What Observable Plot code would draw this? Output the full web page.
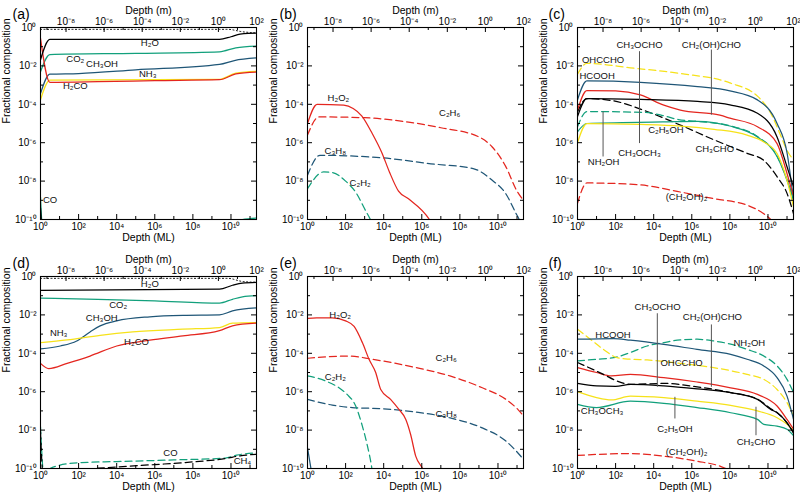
<!DOCTYPE html>
<html><head><meta charset="utf-8">
<script src="https://cdn.jsdelivr.net/npm/d3@7"></script>
<script src="https://cdn.jsdelivr.net/npm/@observablehq/plot@0.6"></script>
<style>
body{margin:0;background:#fff;}
#root{position:relative;width:800px;height:495px;overflow:hidden;background:#fff;}
</style></head><body><div id="root"></div>
<script>
// ---------- axis ticks ----------
const M2ML = Math.pow(10, 9.34);          // monolayers per metre
const XMAX = 100 * M2ML;
const yTicksMajor = [1e-10, 1e-8, 1e-6, 1e-4, 1e-2, 1];
const yTicksMinor = [1e-9, 1e-7, 1e-5, 1e-3, 1e-1];
const xTicksMajor = [1, 1e2, 1e4, 1e6, 1e8, 1e10];
const xTicksMinor = [1e1, 1e3, 1e5, 1e7, 1e9, 1e11];
const mTicksMajor = [1e-8, 1e-6, 1e-4, 1e-2, 1, 1e2];
const mTicksMinor = [1e-9, 1e-7, 1e-5, 1e-3, 1e-1, 1e1];

// ---------- panel (a) ----------
const a_total = [[1,0.8],[7e9,0.8],[4e10,0.6],[2.2e11,0.52]];
const a_H2O = [[1,0.021],[3.1,0.24],[2.5e9,0.24],[1e10,0.33],[3e10,0.45],[8e10,0.5],[2.2e11,0.51]];
const a_CO2 = [[1,0.005],[3.1,0.039],[1e5,0.045],[2.5e9,0.054],[1.8e10,0.087],[2.2e11,0.107]];
const a_CH3OH = [[1,3.6e-4],[3.1,0.0037],[100,0.004],[1e5,0.0062],[2.5e9,0.012],[1.5e10,0.019],[2.2e11,0.026]];
const a_NH3 = [[1,1.7e-4],[3.1,0.0018],[2.5e9,0.002],[1.8e10,0.0042],[2.2e11,0.0052]];
const a_H2CO = [[1,0.27],[3.1,0.0014],[1e3,0.0015],[1e6,0.0017],[2.5e9,0.0019],[1.8e10,0.0038],[2.2e11,0.0048]];
const a_CO = [[1,1.5e-9],[1.3,3e-11],[1e4,1e-12],[1e10,1e-11],[4e10,1e-10],[2.2e11,1.2e-10]];
const a_CH4 = [[1,4e-10],[1.15,5e-11]];
const aLabels = [["H₂O",5.5e5,0.155],["CO₂",67,0.023],["CH₃OH",1.7e3,0.0126],["NH₃",4.3e5,0.0038],["H₂CO",67,9e-4],["CO",3.2,1e-9]];

// ---------- panel (b) ----------
const b_H2O2 = [[1,1e-5],[3.2,1e-4],[80,9e-5],[250,6e-5],[700,2.5e-5],[2500,3e-6],[8000,3e-7],[2e4,3e-8],[6e4,3e-9],[2e5,1.2e-9],[2.5e6,1e-10],[5e6,3e-11]];
const b_C2H6 = [[1,2.5e-6],[4,2.2e-5],[1e3,2e-5],[1e5,1.3e-5],[1e7,6e-6],[1e9,2e-6],[5e9,6e-7],[2.5e10,6e-8],[1e11,3e-9],[2.2e11,1e-9]];
const b_C3H8 = [[1,2e-8],[4.5,2.2e-7],[1e4,1.6e-7],[3e6,8e-8],[5e8,4.5e-8],[5e9,1.1e-8],[2.5e10,2.3e-9],[9e10,2e-10],[1.3e11,1e-10],[2.2e11,2e-11]];
const b_C2H2 = [[1,4e-9],[7,3e-8],[20,2.8e-8],[100,1e-8],[350,2.5e-9],[1100,3e-10],[2000,1e-10],[4000,2e-11]];
const bLabels = [["H₂O₂",42,2.1e-4],["C₂H₆",2.9e7,3.5e-5],["C₃H₈",29,3.6e-7],["C₂H₂",580,8e-9]];

// ---------- panel (c) ----------
const c_OHCCHO = [[1,3.7e-3],[3.1,0.0135],[600,8e-3],[2.5e5,4e-3],[1e8,1.3e-3],[3e9,2.5e-4],[1.4e10,3.4e-5],[5e10,2e-6],[1e11,4e-7],[2.2e11,1.3e-7]];
const c_HCOOH = [[1,1.7e-4],[3.1,1.65e-3],[2e3,1.4e-3],[2e6,8.3e-4],[1e8,5e-4],[2.8e9,1.7e-4],[3e10,1e-5],[1e11,3e-7],[2.2e11,1e-9]];
const c_CH2OHCHO = [[1,5e-5],[3.1,5.2e-4],[100,5e-4],[2e3,3.1e-4],[3.4e4,9e-5],[2.5e5,5e-5],[3e7,2.7e-5],[1e8,1.9e-5],[2.8e9,6.8e-6],[3e10,9e-7],[1e11,2.5e-8],[2.2e11,1.5e-9]];
const c_CH3OCHO = [[1,2.3e-5],[3.1,2e-4],[2e3,1.8e-4],[2e6,1.4e-4],[1e8,9.3e-5],[2.8e9,3.4e-5],[3e10,2e-6],[1e11,5.6e-8],[2.2e11,5e-9]];
const c_CH3CHO = [[1,4e-5],[3.1,2e-4],[80,1.5e-4],[4.5e3,4.2e-5],[2.5e5,8.3e-6],[1.5e7,1.4e-6],[8e8,2.8e-7],[6e9,1.2e-7],[3e10,1.7e-8],[1e11,2.3e-9],[2.2e11,2e-10]];
const c_NH2OH = [[1,6.8e-6],[3.1,4.2e-5],[3e3,3.8e-5],[3e4,2.6e-5],[2e5,1.6e-5],[2e6,1.3e-5],[1e8,7.6e-6],[2.8e9,2.1e-6],[3e10,2e-7],[1e11,1.2e-8],[2.2e11,1.1e-9]];
const c_CH3OCH3 = [[1,3.7e-6],[3.1,1e-5],[3e4,1.2e-5],[2e6,1.3e-5],[1e8,7.4e-6],[2.8e9,2e-6],[3e10,1.9e-7],[1e11,1.1e-8],[2.2e11,1e-9]];
const c_C2H5OH = [[1,1e-6],[3.1,1e-5],[2e3,9e-6],[2.5e5,7.4e-6],[1.5e7,5e-6],[8e8,2.5e-6],[6e9,1.1e-6],[3e10,2.7e-7],[1e11,1.1e-8],[2.2e11,4.5e-10]];
const c_CH2OH2 = [[1,7e-10],[3.1,8e-9],[1.5e3,6.5e-9],[2.5e5,2.7e-9],[1.5e7,1.2e-9],[8e8,5.6e-10],[6e9,2e-10],[1.4e10,1e-10],[4e10,3e-11]];
const cLabels = [["OHCCHO",22,0.0195],["HCOOH",10.7,0.0031],["CH₃OCHO",1.8e3,0.123],["CH₂(OH)CHO",1.07e7,0.123],["NH₂OH",23.6,9.4e-8],["CH₃OCH₃",1.8e3,3e-7],["C₂H₅OH",4.4e4,4.5e-6],["CH₃CHO",1.6e7,5e-7],["(CH₂OH)₂",5.3e5,1.5e-9]];
const cLeaders = [[1.8e3,0.055,9e-7],[1.07e7,0.067,2.7e-5],[22,4e-5,1.8e-7]];

// ---------- panel (d) ----------
const d_total = [[1,0.8],[7e9,0.8],[4e10,0.55],[2.2e11,0.5]];
const d_H2O = [[1,0.19],[2.5e9,0.22],[1.2e10,0.35],[4e10,0.45],[2.2e11,0.49]];
const d_CO2 = [[1,0.074],[1e3,0.065],[1e6,0.054],[2.5e9,0.041],[1.2e10,0.065],[4e10,0.087],[2.2e11,0.1]];
const d_CH3OH = [[1,1.7e-4],[11,2.4e-4],[80,4.4e-4],[400,1.3e-3],[1.35e3,2.7e-3],[1e4,4.9e-3],[5.5e5,8e-3],[3e7,9.5e-3],[2.5e9,0.01],[1.2e10,0.016],[2.2e11,0.023]];
const d_NH3 = [[1,3.6e-4],[25,5e-4],[1.35e3,8.7e-4],[7e4,1.3e-3],[3e7,1.8e-3],[2.5e9,2.2e-3],[1.2e10,3.7e-3],[2.2e11,4e-3]];
const d_H2CO = [[1,3e-5],[2.7,1.6e-5],[25,3e-5],[400,7.2e-5],[1e4,2.4e-4],[5.5e5,4.8e-4],[3e7,8e-4],[2.5e9,1.5e-3],[1.2e10,2.7e-3],[2.2e11,3.7e-3]];
const d_CO = [[1,1.5e-8],[1.5,5e-11],[2,7e-11],[8,1.4e-10],[100,2e-10],[1e4,2.3e-10],[1e7,2.8e-10],[5e9,3.5e-10],[2e10,5e-10],[2.2e11,6.5e-10]];
const d_CH4 = [[1,8e-9],[1.35,5e-11],[5,1e-11],[100,8e-11],[1e4,1.2e-10],[1e6,1.6e-10],[1e8,2.2e-10],[5e9,3.3e-10],[3e10,4.6e-10],[2.2e11,5.5e-10]];
const dLabels = [["H₂O",5.5e5,0.42],["CO₂",1.2e4,0.035],["CH₃OH",1.65e3,6.7e-3],["NH₃",9,1.1e-3],["H₂CO",1.1e5,4.1e-4],["CO",6.6e6,6.4e-10],["CH₄",4e10,2.6e-10]];

// ---------- panel (e) ----------
const e_H2O2 = [[1,6.5e-3],[3,7e-3],[20,7e-3],[100,4.9e-3],[280,2.5e-3],[760,3.6e-4],[1.7e3,4.9e-5],[3.8e3,1e-5],[7e3,1.3e-6],[2.3e4,4e-7],[6.3e4,1.2e-7],[1.45e5,3.6e-8],[2.6e5,5.9e-9],[4.8e5,4.4e-10],[1.1e6,1e-10],[2e6,3e-11]];
const e_C2H6 = [[1,5.5e-5],[150,7.2e-5],[2.5e3,4.9e-5],[5e5,1.8e-5],[3e7,6.6e-6],[1.5e9,1.6e-6],[2.6e10,4e-7],[1.1e11,1.2e-7],[2.2e11,5.4e-8]];
const e_C3H8 = [[1,4e-7],[20,2e-7],[220,1.5e-7],[8.5e3,1.3e-7],[4.8e5,8.7e-8],[2.8e7,4.4e-8],[1.5e9,1.3e-8],[2.6e10,2.7e-9],[2.2e11,3e-10]];
const e_C2H2 = [[1,6.6e-6],[9,3.6e-6],[45,1.6e-6],[120,7.2e-7],[340,1.8e-7],[760,1.6e-8],[1.4e3,1.5e-9],[2.3e3,1.3e-10],[3e3,2e-11]];
const e_other = [[1,1.2e-9],[1.7,5e-11]];
const eLabels = [["H₂O₂",52,0.01],["C₂H₆",1.9e7,5.5e-5],["C₂H₂",29,5.6e-6],["C₃H₈",1.9e7,6.9e-8]];

// ---------- panel (f) ----------
const f_HCOOH = [[1,5.4e-4],[80,5.9e-4],[600,4.8e-4],[3.4e4,2.9e-4],[1.9e6,1.6e-4],[1.1e8,8.9e-5],[8e8,4.9e-5],[6e9,2.2e-5],[3e10,5.4e-6],[1e11,5.9e-7],[2.2e11,3.6e-8]];
const f_NH2OH = [[1,4e-5],[10,4.9e-5],[80,5.9e-5],[600,1.1e-4],[4.5e3,2.4e-4],[3.4e4,3.6e-4],[2.5e5,5e-4],[1.9e6,5.4e-4],[1.4e7,4.4e-4],[1.1e8,3e-4],[8e8,1.6e-4],[6e9,7.2e-5],[3e10,2.2e-5],[1e11,4.4e-6],[2.2e11,9e-7]];
const f_OHCCHO = [[1,1.8e-3],[4.7,5.4e-4],[23,1.6e-4],[120,5.9e-5],[600,4.9e-5],[4.5e3,4.5e-5],[2.5e5,3e-5],[1.4e7,1.8e-5],[8e8,7.9e-6],[6e9,4.4e-6],[3e10,1.3e-6],[1e11,2.7e-7],[2.2e11,5.4e-8]];
const f_CH2OHCHO = [[1,1.8e-5],[10,1e-5],[60,6.6e-6],[600,8e-6],[3.4e4,5.4e-6],[1.9e6,3.2e-6],[1.1e8,1.6e-6],[2.8e9,7.2e-7],[3e10,1.8e-7],[1e11,3.6e-8],[2.2e11,1.1e-8]];
const f_CH3OCHO = [[1,2.7e-6],[10,2e-6],[100,1.9e-6],[600,2.4e-6],[3.4e4,2e-6],[1.9e6,1.4e-6],[1.1e8,8.9e-7],[2.8e9,4e-7],[1.4e10,1.2e-7],[3e10,8e-8],[1e11,2.4e-8],[2.2e11,7.2e-9]];
const f_CH3CHO = [[1,3.3e-5],[23,8e-6],[120,3.6e-6],[600,2.4e-6],[3.4e4,2.7e-6],[1.9e6,1.8e-6],[1.1e8,9e-7],[2.8e9,4.1e-7],[1.4e10,1.3e-7],[3e10,8.2e-8],[1e11,2.4e-8],[2.2e11,7.2e-9]];
const f_C2H5OH = [[1,1e-6],[10,4.9e-7],[60,3.7e-7],[600,5.9e-7],[3.4e4,4.9e-7],[1.9e6,3.2e-7],[1.1e8,1.95e-7],[2.8e9,1e-7],[3e10,4.4e-8],[1e11,2e-8],[2.2e11,8.9e-9]];
const f_CH3OCH3 = [[1,2.2e-7],[10,1.5e-7],[600,3.2e-7],[3.4e4,2.5e-7],[1.9e6,1.5e-7],[1.1e8,8e-8],[2.8e9,3.6e-8],[6e9,2e-8],[3e10,1.6e-8],[1e11,1.1e-8],[2.2e11,5.2e-9]];
const f_CH2OH2 = [[1,4.8e-10],[10,5.4e-10],[600,6e-10],[3.4e4,4.4e-10],[1.9e6,2.4e-10],[3.2e7,1.3e-10],[1e8,8e-11],[1e9,3e-11]];
const fLabels = [["CH₃OCHO",1.6e4,0.025],["CH₂(OH)CHO",1.2e7,7.6e-3],["HCOOH",73,9.1e-4],["NH₂OH",1.05e9,3.3e-4],["OHCCHO",2.9e5,3.2e-5],["CH₃OCH₃",19.5,9.5e-8],["C₂H₅OH",1.3e5,1.2e-8],["CH₃CHO",2.35e9,2.5e-9],["(CH₂OH)₂",5.3e5,6.9e-10]];
const fLeaders = [[1.55e4,0.0115,1.7e-6],[1.07e7,3e-3,1.7e-6],[1.3e5,5.1e-7,3.8e-8],[2.35e9,1.55e-7,5.1e-9]];

// ---------- styles ----------
const COLORS = {k:"#000000", g:"#12a07c", b:"#1f5677", y:"#f6e21a", r:"#e4261f"};
const DASH = {dash:"7,4", dot:"1,2.5"};
const FONT = "'Liberation Sans', Arial, sans-serif";

const panels = [
  {letter:"(a)", left:0, top:0, w:266, h:247, ml:40, mr:10, mt:27, mb:28, labels:aLabels, leaders:[],
   series:[[a_total,"k","dot"],[a_CO2,"g"],[a_CH3OH,"b"],[a_NH3,"y"],[a_H2CO,"r"],[a_H2O,"k"],[a_CO,"g"],[a_CH4,"k"]]},
  {letter:"(b)", left:266, top:0, w:266, h:247, ml:41, mr:9, mt:27, mb:28, labels:bLabels, leaders:[],
   series:[[b_C2H6,"r","dash"],[b_C3H8,"b","dash"],[b_C2H2,"g","dash"],[b_H2O2,"r"]]},
  {letter:"(c)", left:532, top:0, w:268, h:247, ml:45, mr:7, mt:27, mb:28, labels:cLabels, leaders:cLeaders,
   series:[[c_OHCCHO,"y","dash"],[c_CH3CHO,"k","dash"],[c_NH2OH,"g","dash"],[c_CH2OH2,"r","dash"],[c_HCOOH,"b"],[c_CH2OHCHO,"r"],[c_CH3OCHO,"k"],[c_CH3OCH3,"g"],[c_C2H5OH,"y"]]},
  {letter:"(d)", left:0, top:249, w:266, h:246, ml:40, mr:10, mt:27, mb:27, labels:dLabels, leaders:[],
   series:[[d_total,"k","dot"],[d_CO2,"g"],[d_CH3OH,"b"],[d_NH3,"y"],[d_H2CO,"r"],[d_H2O,"k"],[d_CO,"g","dash"],[d_CH4,"k","dash"]]},
  {letter:"(e)", left:266, top:249, w:266, h:246, ml:41, mr:9, mt:27, mb:27, labels:eLabels, leaders:[],
   series:[[e_C2H6,"r","dash"],[e_C3H8,"b","dash"],[e_C2H2,"g","dash"],[e_H2O2,"r"],[e_other,"b"]]},
  {letter:"(f)", left:532, top:249, w:268, h:246, ml:45, mr:7, mt:27, mb:27, labels:fLabels, leaders:fLeaders,
   series:[[f_NH2OH,"g","dash"],[f_OHCCHO,"y","dash"],[f_CH2OH2,"r","dash"],[f_HCOOH,"b"],[f_CH2OHCHO,"r"],[f_C2H5OH,"y"],[f_CH3OCH3,"g"],[f_CH3OCHO,"k"],[f_CH3CHO,"k","dash"]]}
];

const SUP = {"-":"⁻","0":"⁰","1":"¹","2":"²","3":"³","4":"⁴","5":"⁵","6":"⁶","7":"⁷","8":"⁸","9":"⁹"};
const pow10 = e => "10" + String(e).split("").map(c => SUP[c]).join("");
const fmtLog = v => pow10(Math.round(Math.log10(v)));
const fmtM = v => pow10(Math.round(Math.log10(v / M2ML)));

const root = document.getElementById("root");
for (const p of panels) {
  const fw = p.w - p.ml - p.mr, fh = p.h - p.mt - p.mb;
  const big = 5, small = 3;
  const marks = [];
  for (const [data, c, dash] of p.series) {
    marks.push(Plot.line(data, {x: d => d[0], y: d => d[1], stroke: COLORS[c],
      strokeWidth: dash === "dot" ? 1 : 1.25,
      strokeDasharray: dash ? DASH[dash] : undefined, curve: "monotone-x", clip: true}));
  }
  if (p.leaders.length) marks.push(Plot.ruleX(p.leaders, {x: d => d[0], y1: d => d[1], y2: d => d[2], stroke: "#555", strokeWidth: 1}));
  marks.push(Plot.text(p.labels, {x: d => d[1], y: d => d[2], text: d => d[0], fontSize: 9.5, fill: "#111"}));
  const mt = xs => xs.map(m => m * M2ML);
  marks.push(
    Plot.tickY(yTicksMajor, {y: d => d, insetRight: fw - big, stroke: "#000"}),
    Plot.tickY(yTicksMinor, {y: d => d, insetRight: fw - small, stroke: "#000"}),
    Plot.tickY(yTicksMajor, {y: d => d, insetLeft: fw - big, stroke: "#000"}),
    Plot.tickY(yTicksMinor, {y: d => d, insetLeft: fw - small, stroke: "#000"}),
    Plot.tickX(xTicksMajor, {x: d => d, insetTop: fh - big, stroke: "#000"}),
    Plot.tickX(xTicksMinor.filter(v => v < XMAX), {x: d => d, insetTop: fh - small, stroke: "#000"}),
    Plot.tickX(mt(mTicksMajor).filter(v => v < XMAX * 0.99), {x: d => d, insetBottom: fh - big, stroke: "#000"}),
    Plot.tickX(mt(mTicksMinor), {x: d => d, insetBottom: fh - small, stroke: "#000"}),
    Plot.frame({stroke: "#000", strokeWidth: 1.1}),
    Plot.axisY({ticks: yTicksMajor, tickSize: 0, tickPadding: 4, tickFormat: fmtLog, label: null, fontSize: 10}),
    Plot.axisX({ticks: xTicksMajor, tickSize: 0, tickPadding: 3, tickFormat: fmtLog, label: null, anchor: "bottom", fontSize: 10}),
    Plot.axisX({ticks: mt(mTicksMajor), tickSize: 0, tickPadding: 3, tickFormat: fmtM, label: null, anchor: "top", fontSize: 10}),
    Plot.text(["Depth (ML)"], {text: d => d, frameAnchor: "bottom", dy: 21, fontSize: 10.5}),
    Plot.text(["Depth (m)"], {text: d => d, frameAnchor: "top", dy: -21, fontSize: 10.5}),
    Plot.text(["Fractional composition"], {text: d => d, frameAnchor: "left", rotate: -90, dx: -34, fontSize: 10.5}),
    Plot.text([p.letter], {text: d => d, frameAnchor: "top-left", dx: p.ml > 42 ? -29 : -28, dy: -18, fontSize: 14})
  );
  const svg = Plot.plot({
    width: p.w, height: p.h,
    marginLeft: p.ml, marginRight: p.mr, marginTop: p.mt, marginBottom: p.mb,
    x: {type: "log", domain: [1, XMAX]},
    y: {type: "log", domain: [1e-10, 1]},
    style: {fontFamily: FONT, fontSize: "10px", background: "transparent", overflow: "visible"},
    marks
  });
  svg.style.position = "absolute";
  svg.style.left = p.left + "px";
  svg.style.top = p.top + "px";
  root.appendChild(svg);
}
</script></body></html>
